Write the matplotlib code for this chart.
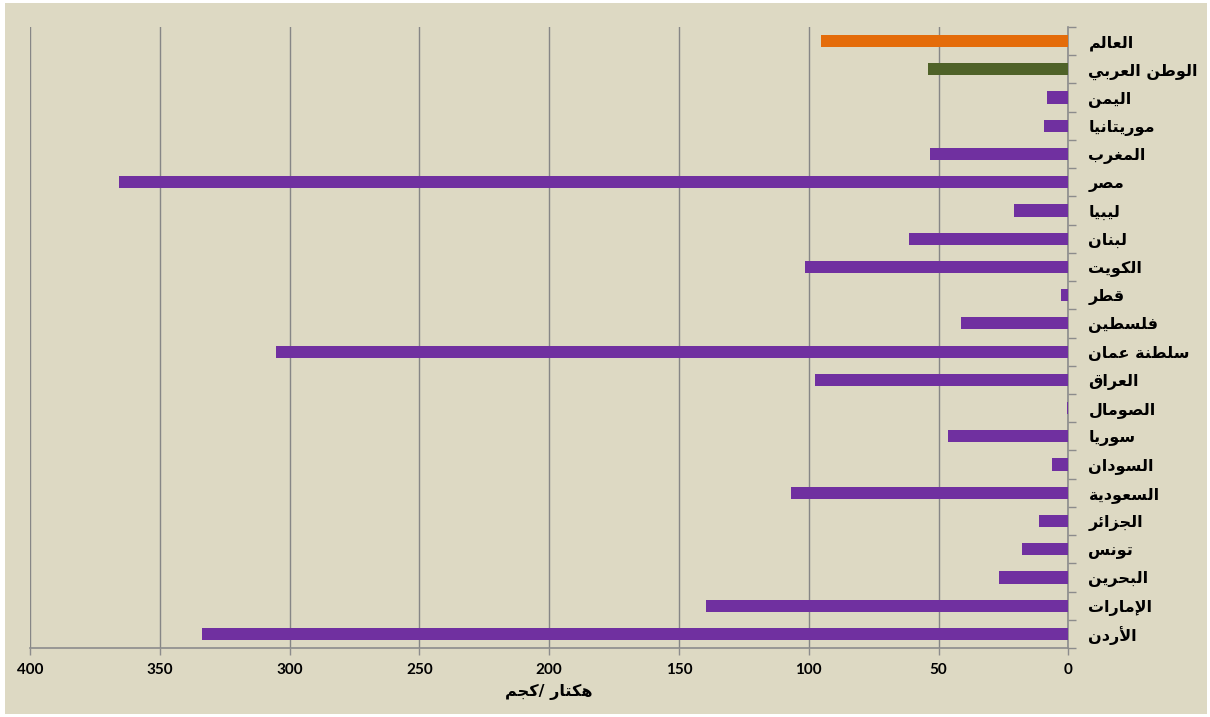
import matplotlib
matplotlib.use("Agg")
import matplotlib.pyplot as plt
from matplotlib.patches import Rectangle
from matplotlib.ticker import FixedLocator

# ---------------- data (top to bottom) ----------------
categories = ["العالم", "الوطن العربي", "اليمن", "موريتانيا", "المغرب", "مصر",
              "ليبيا", "لبنان", "الكويت", "قطر", "فلسطين", "سلطنة عمان",
              "العراق", "الصومال", "سوريا", "السودان", "السعودية", "الجزائر",
              "تونس", "البحرين", "الإمارات", "الأردن"]
values = [95.4, 54.2, 8.2, 9.4, 53.4, 365.6,
          20.9, 61.5, 101.4, 2.9, 41.2, 305.2,
          97.7, 0.4, 46.5, 6.3, 106.7, 11.4,
          17.7, 26.8, 139.4, 333.6]
bar_groups = ["world", "arab"] + ["country"] * 20
x_ticks = [0, 50, 100, 150, 200, 250, 300, 350, 400]
x_label_words = ["كجم", "هكتار"]

group_colors = {"world": "#E46C0A", "arab": "#4F6228", "country": "#7030A0"}

# ---------------- minimal Arabic shaping (presentation forms) ----------------
RIGHT_JOIN = {'ا': 0xFE8D, 'أ': 0xFE83, 'إ': 0xFE87, 'آ': 0xFE81, 'ة': 0xFE93,
              'د': 0xFEA9, 'ذ': 0xFEAB, 'ر': 0xFEAD, 'ز': 0xFEAF, 'و': 0xFEED}
DUAL_JOIN = {'ب': 0xFE8F, 'ت': 0xFE95, 'ج': 0xFE9D, 'ح': 0xFEA1, 'س': 0xFEB1,
             'ص': 0xFEB9, 'ط': 0xFEC1, 'ع': 0xFEC9, 'غ': 0xFECD, 'ف': 0xFED1,
             'ق': 0xFED5, 'ك': 0xFED9, 'ل': 0xFEDD, 'م': 0xFEE1, 'ن': 0xFEE5,
             'ه': 0xFEE9, 'ي': 0xFEF1, 'ئ': 0xFE89}
LAM_ALEF = {'ا': 0xFEFB, 'أ': 0xFEF7, 'إ': 0xFEF9, 'آ': 0xFEF5}


def is_letter(c):
    return c in RIGHT_JOIN or c in DUAL_JOIN


def shape(text):
    out = []
    i = 0
    n = len(text)
    while i < n:
        c = text[i]
        if not is_letter(c):
            out.append(c)
            i += 1
            continue
        prev = text[i - 1] if i > 0 else ''
        joins_prev = prev in DUAL_JOIN
        if c == 'ل' and i + 1 < n and text[i + 1] in LAM_ALEF:
            base = LAM_ALEF[text[i + 1]]
            out.append(chr(base + (1 if joins_prev else 0)))
            i += 2
            continue
        nxt = text[i + 1] if i + 1 < n else ''
        if c in RIGHT_JOIN:
            base = RIGHT_JOIN[c]
            out.append(chr(base + (1 if joins_prev else 0)))
        else:
            base = DUAL_JOIN[c]
            joins_next = is_letter(nxt)
            if joins_prev and joins_next:
                off = 3
            elif joins_prev:
                off = 1
            elif joins_next:
                off = 2
            else:
                off = 0
            out.append(chr(base + off))
        i += 1
    return ''.join(reversed(out))


# ---------------- figure ----------------
W, H = 1210, 717
fig = plt.figure(figsize=(W / 100, H / 100), dpi=100, facecolor="white")
fig.patches.append(Rectangle((5 / W, 3 / H), (1207 - 5) / W, (714 - 3) / H,
                             transform=fig.transFigure, facecolor="#DDD9C3",
                             edgecolor="none", zorder=-5))

ax = fig.add_axes([30 / W, (717 - 648) / H, (1068.3 - 30) / W, (648 - 27) / H])
ax.set_facecolor("none")
ax.set_zorder(2)

n = len(categories)
ypos = list(range(n))
colors = [group_colors[g] for g in bar_groups]
ax.barh(ypos, values, height=0.43, color=colors, zorder=3)

ax.set_xlim(400, 0)
ax.set_ylim(n - 0.5, -0.5)

# x axis
ax.set_xticks(x_ticks)
ax.set_xticklabels([str(t) for t in x_ticks], fontfamily="Lato",
                   fontweight="bold", fontsize=11)
ax.tick_params(axis="x", direction="out", length=5, width=1,
               color="#8C8C8C", pad=6)
ax.grid(axis="x", color="#868686", linewidth=1.0, zorder=1)
ax.set_axisbelow(True)

# y axis on right
ax.yaxis.tick_right()
ax.set_yticks(ypos)
ax.set_yticklabels([shape(c) for c in categories], fontfamily="DejaVu Sans",
                   fontweight="bold", fontsize=11.5)
ax.yaxis.set_minor_locator(FixedLocator([i - 0.5 for i in range(n + 1)]))
ax.tick_params(axis="y", which="major", length=0, pad=14.5)
ax.tick_params(axis="y", which="minor", direction="out", length=6,
               width=1, color="#8C8C8C", right=True, left=False)

for s in ["top", "left"]:
    ax.spines[s].set_visible(False)
for s in ["bottom", "right"]:
    ax.spines[s].set_color("#8C8C8C")
    ax.spines[s].set_linewidth(1.2)

xlabel = shape(x_label_words[0]) + "/ " + shape(x_label_words[1])
ax.set_xlabel(xlabel, fontfamily="DejaVu Sans", fontweight="bold",
              fontsize=11.5, labelpad=5)

fig.savefig("out.png", dpi=100, facecolor="white")
